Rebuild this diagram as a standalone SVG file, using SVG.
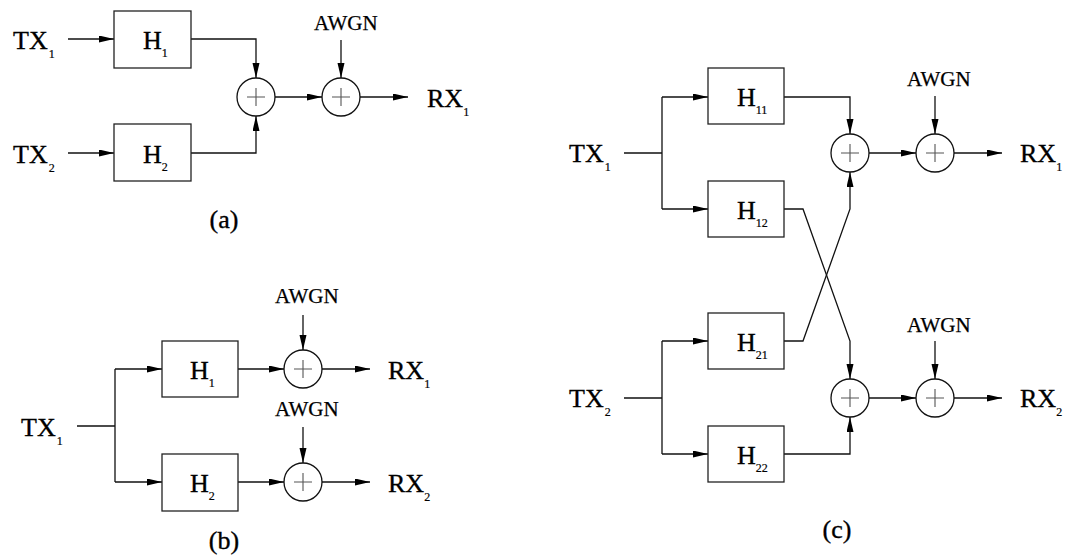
<svg xmlns="http://www.w3.org/2000/svg" width="1068" height="556" viewBox="0 0 1068 556" font-family="'Liberation Serif', 'Times New Roman', serif">
<defs>
<marker id="arr" markerUnits="userSpaceOnUse" markerWidth="16" markerHeight="8" refX="15" refY="3.5" orient="auto">
<path d="M0,0 L15,3.5 L0,7 z" fill="#000"/>
</marker>
<g id="sum">
<circle cx="0" cy="0" r="19" fill="#fff" stroke="#111" stroke-width="1.3"/>
<path d="M-9,0 H9 M0,-9 V9" stroke="#555" stroke-width="1.1" fill="none"/>
</g>
</defs>
<style>
text{font-family:'Liberation Serif','Times New Roman',serif;fill:#000;stroke:#000;stroke-width:0.35px}
.lbl{font-size:26px}
.sub{font-size:12px;stroke-width:0.2px}
.awgn{font-size:21px;stroke-width:0.25px}
.box{fill:#fff;stroke:#222;stroke-width:1.3}
.c{fill:none;stroke:#111;stroke-width:1.3}
.a{marker-end:url(#arr)}
</style>
<rect width="1068" height="556" fill="#fff"/>

<g id="connectors">
<path class="c a" d="M68,39 H114"/>
<path class="c a" d="M68,153 H114"/>
<path class="c a" d="M191,39 H256 V78"/>
<path class="c a" d="M191,153 H256 V116"/>
<path class="c a" d="M275,97 H322"/>
<path class="c a" d="M341,40 V78"/>
<path class="c a" d="M360,97 H408"/>
<path class="c" d="M77,426 H115 M115,369 V482"/>
<path class="c a" d="M115,369 H162"/>
<path class="c a" d="M115,482 H162"/>
<path class="c a" d="M238,369 H284"/>
<path class="c a" d="M238,482 H284"/>
<path class="c a" d="M303,315 V350"/>
<path class="c a" d="M303,427 V463"/>
<path class="c a" d="M322,369 H370"/>
<path class="c a" d="M322,482 H370"/>
<path class="c" d="M624,153 H662 M662,97 V209"/>
<path class="c a" d="M662,97 H708"/>
<path class="c a" d="M662,209 H708"/>
<path class="c" d="M624,398 H662 M662,341 V454"/>
<path class="c a" d="M662,341 H708"/>
<path class="c a" d="M662,454 H708"/>
<path class="c a" d="M784,97 H850 V134"/>
<path class="c a" d="M784,209 H803 L850,341 V379"/>
<path class="c a" d="M784,341 H803 L850,209 V172"/>
<path class="c a" d="M784,454 H850 V417"/>
<path class="c a" d="M869,153 H916"/>
<path class="c a" d="M869,398 H916"/>
<path class="c a" d="M935,96 V134"/>
<path class="c a" d="M935,341 V379"/>
<path class="c a" d="M954,153 H1002"/>
<path class="c a" d="M954,398 H1002"/>
</g>

<g id="a-tx1"><text class="lbl" x="13" y="49">TX<tspan class="sub" dx="1" dy="9">1</tspan></text></g>
<g id="a-tx2"><text class="lbl" x="13" y="163">TX<tspan class="sub" dx="1" dy="9">2</tspan></text></g>
<g id="a-h1"><rect class="box" x="114" y="11" width="77" height="57"/><text class="lbl" x="143" y="49">H<tspan class="sub" dx="0" dy="8">1</tspan></text></g>
<g id="a-h2"><rect class="box" x="114" y="124" width="77" height="57"/><text class="lbl" x="143" y="163">H<tspan class="sub" dx="0" dy="8">2</tspan></text></g>
<g id="a-sum1"><use href="#sum" x="256" y="97"/></g>
<g id="a-sum2"><use href="#sum" x="341" y="97"/></g>
<g id="a-awgn"><text class="awgn" x="314" y="30">AWGN</text></g>
<g id="a-rx1"><text class="lbl" x="427" y="107">RX<tspan class="sub" dx="0" dy="9">1</tspan></text></g>
<text class="lbl" x="224" y="228" text-anchor="middle">(a)</text>

<g id="b-tx1"><text class="lbl" x="21" y="436">TX<tspan class="sub" dx="1" dy="9">1</tspan></text></g>
<g id="b-h1"><rect class="box" x="162" y="341" width="76" height="56"/><text class="lbl" x="190" y="379">H<tspan class="sub" dx="0" dy="8">1</tspan></text></g>
<g id="b-h2"><rect class="box" x="162" y="454" width="76" height="57"/><text class="lbl" x="190" y="492">H<tspan class="sub" dx="0" dy="8">2</tspan></text></g>
<g id="b-sum1"><use href="#sum" x="303" y="369"/></g>
<g id="b-sum2"><use href="#sum" x="303" y="482"/></g>
<g id="b-awgn1"><text class="awgn" x="275" y="303">AWGN</text></g>
<g id="b-awgn2"><text class="awgn" x="275" y="416">AWGN</text></g>
<g id="b-rx1"><text class="lbl" x="388" y="379">RX<tspan class="sub" dx="0" dy="9">1</tspan></text></g>
<g id="b-rx2"><text class="lbl" x="388" y="492">RX<tspan class="sub" dx="0" dy="9">2</tspan></text></g>
<text class="lbl" x="224" y="549" text-anchor="middle">(b)</text>

<g id="c-tx1"><text class="lbl" x="569" y="162">TX<tspan class="sub" dx="1" dy="9">1</tspan></text></g>
<g id="c-tx2"><text class="lbl" x="569" y="407">TX<tspan class="sub" dx="1" dy="9">2</tspan></text></g>
<g id="c-h11"><rect class="box" x="708" y="68" width="76" height="56"/><text class="lbl" x="737" y="106">H<tspan class="sub" dx="0" dy="8">11</tspan></text></g>
<g id="c-h12"><rect class="box" x="708" y="181" width="76" height="56"/><text class="lbl" x="737" y="219">H<tspan class="sub" dx="0" dy="8">12</tspan></text></g>
<g id="c-h21"><rect class="box" x="708" y="313" width="76" height="56"/><text class="lbl" x="737" y="351">H<tspan class="sub" dx="0" dy="8">21</tspan></text></g>
<g id="c-h22"><rect class="box" x="708" y="426" width="76" height="56"/><text class="lbl" x="737" y="464">H<tspan class="sub" dx="0" dy="8">22</tspan></text></g>
<g id="c-sum1"><use href="#sum" x="850" y="153"/></g>
<g id="c-sum2"><use href="#sum" x="935" y="153"/></g>
<g id="c-sum3"><use href="#sum" x="850" y="398"/></g>
<g id="c-sum4"><use href="#sum" x="935" y="398"/></g>
<g id="c-awgn1"><text class="awgn" x="907" y="86">AWGN</text></g>
<g id="c-awgn2"><text class="awgn" x="907" y="332">AWGN</text></g>
<g id="c-rx1"><text class="lbl" x="1020" y="162">RX<tspan class="sub" dx="0" dy="9">1</tspan></text></g>
<g id="c-rx2"><text class="lbl" x="1020" y="407">RX<tspan class="sub" dx="0" dy="9">2</tspan></text></g>
<text class="lbl" x="837" y="538" text-anchor="middle">(c)</text>
</svg>
